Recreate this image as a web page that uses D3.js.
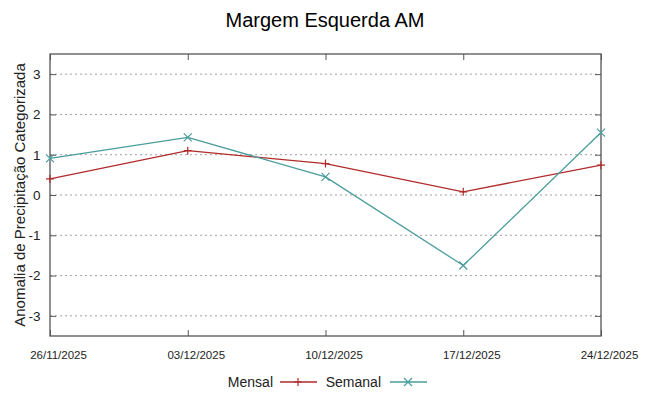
<!DOCTYPE html>
<html>
<head>
<meta charset="utf-8">
<script src="https://cdn.jsdelivr.net/npm/d3@7"></script>
<style>
  body { margin: 0; background: #fff; }
  svg { display: block; font-family: 'Liberation Sans', Arial, sans-serif; }
</style>
</head>
<body>
<div id="chart"></div>
<script>
// Datas e séries (anomalia categorizada)
const dates = ['26/11/2025', '03/12/2025', '10/12/2025', '17/12/2025', '24/12/2025'];
const mensal = [0.40, 1.10, 0.78, 0.08, 0.74];
const semanal = [0.91, 1.43, 0.45, -1.75, 1.55];
const yTicks = [-3, -2, -1, 0, 1, 2, 3];

const width = 649, height = 396;
const margin = { top: 54, right: 48, bottom: 60, left: 50 };

const svg = d3.select('#chart').append('svg')
    .attr('width', width)
    .attr('height', height);

const x = d3.scalePoint()
    .domain(dates)
    .range([margin.left, width - margin.right]);

const y = d3.scaleLinear()
    .domain([-3.5, 3.5])
    .range([height - margin.bottom, margin.top]);

// título
svg.append('text')
    .attr('x', 325).attr('y', 27)
    .attr('text-anchor', 'middle')
    .attr('font-size', '20px')
    .attr('fill', '#000')
    .text('Margem Esquerda AM');

// grade horizontal pontilhada
svg.append('g')
    .selectAll('line')
    .data(yTicks)
    .join('line')
    .attr('x1', margin.left).attr('x2', width - margin.right)
    .attr('y1', d => y(d)).attr('y2', d => y(d))
    .attr('stroke', '#a0a0a0')
    .attr('stroke-width', 1)
    .attr('stroke-dasharray', '2,3');

// eixo Y esquerdo e direito (ticks para dentro)
const yLeft = svg.append('g')
    .attr('transform', `translate(${margin.left},0)`)
    .call(d3.axisLeft(y).tickValues(yTicks).tickSize(-6).tickPadding(9.5).tickFormat(d => String(d)));
const yRight = svg.append('g')
    .attr('transform', `translate(${width - margin.right},0)`)
    .call(d3.axisRight(y).tickValues(yTicks).tickSize(-6).tickFormat(''));

// eixo X inferior e superior
const xBottom = svg.append('g')
    .attr('transform', `translate(0,${height - margin.bottom})`)
    .call(d3.axisBottom(x).tickSize(-6).tickPadding(15));
const xTop = svg.append('g')
    .attr('transform', `translate(0,${margin.top})`)
    .call(d3.axisTop(x).tickSize(-6).tickFormat(''));

[yLeft, yRight, xBottom, xTop].forEach(a => {
    a.select('.domain').remove();
    a.selectAll('line').attr('stroke', '#555').attr('stroke-width', 1);
});
yLeft.selectAll('text').attr('font-size', '13.5px').attr('fill', '#222').attr('font-family', 'Liberation Sans');
xBottom.selectAll('text')
    .attr('font-size', '11.5px').attr('fill', '#222').attr('font-family', 'Liberation Sans')
    .attr('dx', '8');

// moldura
svg.append('rect')
    .attr('x', margin.left).attr('y', margin.top)
    .attr('width', width - margin.left - margin.right)
    .attr('height', height - margin.top - margin.bottom)
    .attr('fill', 'none')
    .attr('stroke', '#555')
    .attr('stroke-width', 1.3);

// rótulo do eixo Y
svg.append('text')
    .attr('transform', `translate(25,${(margin.top + height - margin.bottom) / 2}) rotate(-90)`)
    .attr('text-anchor', 'middle')
    .attr('font-size', '15px')
    .attr('fill', '#222')
    .text('Anomalia de Precipitação Categorizada');

const line = d3.line().x((d, i) => x(dates[i])).y(d => y(d));

const series = [
    { name: 'Mensal', values: mensal, color: '#b22a2a', marker: 'plus' },
    { name: 'Semanal', values: semanal, color: '#4a9c9c', marker: 'cross' }
];

function marker(g, type, cx, cy, color) {
    const s = 4;
    if (type === 'plus') {
        g.append('path')
            .attr('d', `M${cx - s},${cy}H${cx + s}M${cx},${cy - s}V${cy + s}`)
            .attr('stroke', color).attr('stroke-width', 1.2).attr('fill', 'none');
    } else {
        g.append('path')
            .attr('d', `M${cx - s},${cy - s}L${cx + s},${cy + s}M${cx - s},${cy + s}L${cx + s},${cy - s}`)
            .attr('stroke', color).attr('stroke-width', 1.2).attr('fill', 'none');
    }
}

series.forEach(s => {
    svg.append('path')
        .datum(s.values)
        .attr('d', line)
        .attr('fill', 'none')
        .attr('stroke', s.color)
        .attr('stroke-width', 1.3);
    const g = svg.append('g');
    s.values.forEach((v, i) => marker(g, s.marker, x(dates[i]), y(v), s.color));
});

// legenda
const legend = [
    { name: 'Mensal', color: '#b22a2a', marker: 'plus', textEnd: 273, lx: 280 },
    { name: 'Semanal', color: '#4a9c9c', marker: 'cross', textEnd: 381, lx: 390 }
];
legend.forEach(l => {
    svg.append('text')
        .attr('x', l.textEnd).attr('y', 387)
        .attr('text-anchor', 'end')
        .attr('font-size', '14px')
        .attr('fill', '#222')
        .text(l.name);
    svg.append('line')
        .attr('x1', l.lx).attr('x2', l.lx + 37)
        .attr('y1', 382).attr('y2', 382)
        .attr('stroke', l.color).attr('stroke-width', 1.3);
    marker(svg, l.marker, l.lx + 18, 382, l.color);
});
</script>
</body>
</html>
